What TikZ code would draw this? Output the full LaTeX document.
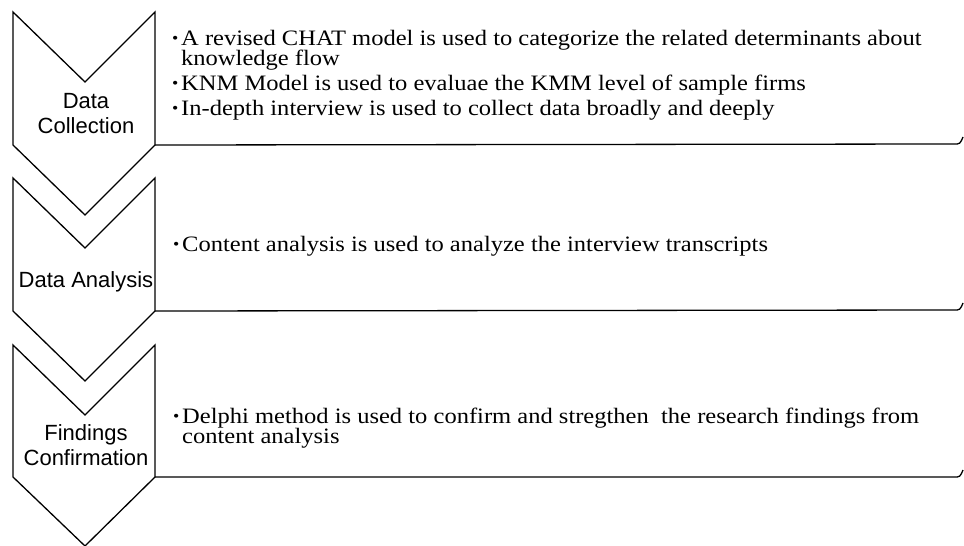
\documentclass[tikz,border=0pt]{standalone}
\usepackage{xcolor}
\usepackage{fontspec}
\newfontfamily\bodyfont[FakeStretch=1.115]{Liberation Serif}
\newfontfamily\labelfont{Liberation Sans}
% small bullet in front of every item
\newcommand{\itm}{\makebox[9pt][l]{\raisebox{2pt}{\fontsize{16}{16}\selectfont •}}}
\newcommand{\hang}{\hspace*{9pt}}
\newcommand{\tightlines}{\lineskiplimit=-20pt\relax}

\begin{document}
\begin{tikzpicture}[
	x=1pt, y=-1pt,
	chev/.style = {draw=black, line width=1.3pt, line join=miter},
	boxline/.style = {draw=black, line width=1.3pt},
	phase/.style = {font=\labelfont\fontsize{22}{25}\selectfont, align=center, inner sep=0pt},
	items/.style = {font=\bodyfont\fontsize{22}{20}\selectfont\tightlines, align=left, inner sep=0pt, anchor=base west}
	]
	\useasboundingbox (0,0) rectangle (964,546);
	
	% the three chevrons, each one reaching into the next
	\draw[chev] (13,12) -- (85,82) -- (155,12) -- (155,145) -- (85,215) -- (13,145) -- cycle;
	\draw[chev] (13,178) -- (85,248) -- (155,178) -- (155,311) -- (85,381) -- (13,311) -- cycle;
	\draw[chev] (13,345) -- (85,415) -- (155,345) -- (155,477) -- (85,546) -- (13,477) -- cycle;
	
	\coordinate (corner1) at (155,145);
	\coordinate (corner2) at (155,311);
	\coordinate (corner3) at (155,477);
	
	% phase names
	\node[phase] (collect) at (86,114) {Data\\Collection};
	\node[phase] (analyse) at (86,282) {Data Analysis};
	\node[phase] (confirm) at (86,445) {Findings\\Confirmation};
	
	% bottom edges of the text boxes
	\draw[boxline] (corner1) -- (954,144) .. controls (960,144) .. (963,137);
	\draw[boxline] (corner2) -- (954,310) .. controls (960,310) .. (963,303);
	\draw[boxline] (corner3) -- (954,477) .. controls (960,477) .. (963,470);
	
	% what happens in each phase (base is the last line)
	\node[items] (methods) at (172,115) {\itm A revised CHAT model is used to categorize the related determinants about\\
		\hang knowledge flow\\[5pt]
		\itm KNM Model is used to evaluae the KMM level of sample firms\\[5pt]
		\itm In-depth interview is used to collect data broadly and deeply};
	\node[items] (content) at (173,251) {\itm Content analysis is used to analyze the interview transcripts};
	\node[items] (delphi) at (173,443) {\itm Delphi method is used to confirm and stregthen~ the research findings from\\
		\hang content analysis};
	
\end{tikzpicture}
\end{document}
